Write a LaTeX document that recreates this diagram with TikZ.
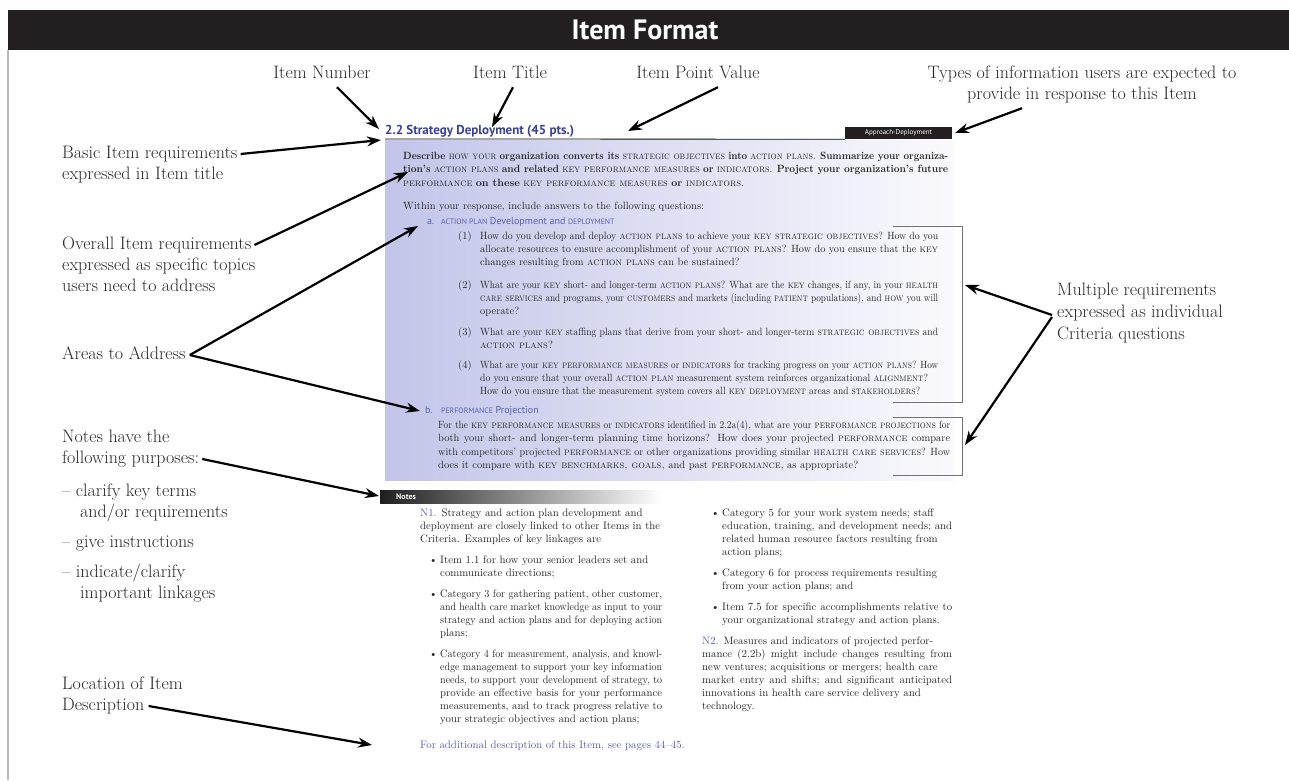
\documentclass[tikz,border=0pt]{standalone}
\usepackage{fontspec}
\usepackage{graphicx}
\usetikzlibrary{arrows.meta}
\newfontfamily\hsans{PT Sans}
\definecolor{barblack}{RGB}{35,31,32}
\definecolor{hblue}{RGB}{55,65,150}
\definecolor{sblue}{RGB}{85,95,180}
\definecolor{txt}{RGB}{40,40,40}
\definecolor{shadeL}{RGB}{194,197,233}
\definecolor{shadeR}{RGB}{250,250,253}
\definecolor{brk}{RGB}{115,115,115}
\newcommand\jl[2]{\setbox0\hbox{#2}\ifdim\wd0>#1pt\resizebox{#1pt}{\height}{\box0}\else\makebox[#1pt][s]{#2}\fi}
\newcommand\ssc[1]{{\fontsize{7.8}{9}\selectfont #1}}
\newcommand\sk[1]{\textsc{#1}}
\begin{document}
\begin{tikzpicture}[x=1pt,y=-1pt,
  lab/.style={anchor=west, inner sep=0pt, text height=12pt, text depth=4pt, font=\fontsize{18}{21}\selectfont, text=txt},
  labc/.style={lab, anchor=center},
  body/.style={anchor=west, inner sep=0pt, text height=7pt, text depth=2.5pt, font=\fontsize{10.5}{12}\selectfont, text=txt},
  note/.style={body, font=\fontsize{10.8}{12}\selectfont},
  subh/.style={body, text=sblue, font=\hsans\fontsize{10}{12}\selectfont},
  arr/.style={-{Stealth[length=14pt,width=10pt]}, line width=2.2pt, black},
  bracket/.style={draw=brk, line width=1pt}]
\useasboundingbox (0,0) rectangle (1289,780);
\fill[white] (0,0) rectangle (1289,780);
% title bar and frame
\fill[barblack] (8,10) rectangle (1289,50);
\node[text=white, font=\hsans\bfseries\fontsize{28}{30}\selectfont, inner sep=0pt] (title) at (645,30) {Item Format};
\draw[gray!55, line width=1.2pt] (8,50) -- (8,780);
% shaded item box
\shade[left color=shadeL, right color=shadeR] (385,140) rectangle (955,480);
% heading
\node[anchor=west, inner sep=0pt, text=hblue, font=\hsans\bfseries\fontsize{13}{14}\selectfont] (head) at (385,131) {2.2 Strategy Deployment (45 pts.)};
\node[fill=barblack, text=white, font=\hsans\fontsize{7}{8}\selectfont, minimum width=107pt, minimum height=12pt, inner sep=0pt] (ad) at (898.5,133) {Approach-Deployment};
\draw[black, line width=0.8pt] (385,139) -- (ad.south west);
% body text
\node[body] (d1) at (403,157) {\jl{545}{\textbf{Describe} \sk{how your} \textbf{organization converts its} \sk{strategic objectives} \textbf{into} \sk{action plans}. \textbf{Summarize your organiza-}}};
\node[body] (d2) at (403,170.5) {\jl{545}{\textbf{tion's} \sk{action plans} \textbf{and related} \sk{key performance measures} \textbf{or} \sk{indicators}. \textbf{Project your organization's future}}};
\node[body] (d3) at (403,184) {\sk{performance} \textbf{on these} \sk{key performance measures} \textbf{or} \sk{indicators}.};
\node[body] (w) at (403,207) {Within your response, include answers to the following questions:};
\node[subh] (la) at (427,222) {a.};
\node[subh] (ha) at (441,222) {\ssc{ACTION PLAN} Development and \ssc{DEPLOYMENT}};
\node[body] (n1) at (458,237) {(1)};
\node[body] (q1a) at (480,237) {\jl{458}{How do you develop and deploy \sk{action plans} to achieve your \sk{key strategic objectives}? How do you}};
\node[body] (q1b) at (480,250) {\jl{458}{allocate resources to ensure accomplishment of your \sk{action plans}? How do you ensure that the \sk{key}}};
\node[body] (q1c) at (480,263) {changes resulting from \sk{action plans} can be sustained?};
\node[body] (n2) at (458,286) {(2)};
\node[body] (q2a) at (480,286) {\jl{458}{What are your \sk{key} short- and longer-term \sk{action plans}? What are the \sk{key} changes, if any, in your \sk{health}}};
\node[body] (q2b) at (480,299) {\jl{458}{\sk{care services} and programs, your \sk{customers} and markets (including \sk{patient} populations), and \sk{how} you will}};
\node[body] (q2c) at (480,312) {operate?};
\node[body] (n3) at (458,333) {(3)};
\node[body] (q3a) at (480,333) {\jl{458}{What are your \sk{key} staffing plans that derive from your short- and longer-term \sk{strategic objectives} and}};
\node[body] (q3b) at (480,346) {\sk{action plans}?};
\node[body] (n4) at (458,366) {(4)};
\node[body] (q4a) at (480,366) {\jl{458}{What are your \sk{key performance measures} or \sk{indicators} for tracking progress on your \sk{action plans}? How}};
\node[body] (q4b) at (480,379) {\jl{448}{do you ensure that your overall \sk{action plan} measurement system reinforces organizational \sk{alignment}?}};
\node[body] (q4c) at (480,392) {\jl{440}{How do you ensure that the measurement system covers all \sk{key deployment} areas and \sk{stakeholders}?}};
\node[subh] (lb) at (425,411) {b.};
\node[subh] (hb) at (441,411) {\ssc{PERFORMANCE} Projection};
\node[body] (p1) at (438,426) {\jl{512}{For the \sk{key performance measures} or \sk{indicators} identified in 2.2a(4), what are your \sk{performance projections} for}};
\node[body] (p2) at (438,439.5) {\jl{512}{both your short- and longer-term planning time horizons? How does your projected \sk{performance} compare}};
\node[body] (p3) at (438,453) {\jl{512}{with competitors' projected \sk{performance} or other organizations providing similar \sk{health care services}? How}};
\node[body] (p4) at (438,466.5) {does it compare with \sk{key benchmarks, goals,} and past \sk{performance}, as appropriate?};
% brackets
\draw[bracket] (893,226) -- (962,226) -- (962,402) -- (893,402);
\draw[bracket] (893,417) -- (962,417) -- (962,475) -- (893,475);
% notes bar
\shade[left color=black!88, middle color=black!55, right color=white] (380,490) rectangle (662,503);
\node[anchor=west, inner sep=0pt, text=white, font=\hsans\bfseries\fontsize{8}{9}\selectfont] (notesbar) at (396,496.5) {Notes};
% notes left column
\node[note] (l1) at (420,514) {{\color{sblue}N1.} Strategy and action plan development and};
\node[note] (l2) at (420,527) {\jl{240}{deployment are closely linked to other Items in the}};
\node[note] (l3) at (420,540) {Criteria. Examples of key linkages are};
\node[note] (b1) at (429,561) {\textbullet};
\node[note] (l4) at (440,561) {Item 1.1 for how your senior leaders set and};
\node[note] (l5) at (440,574) {communicate directions;};
\node[note] (b2) at (429,595) {\textbullet};
\node[note] (l6) at (440,595) {\jl{222}{Category 3 for gathering patient, other customer,}};
\node[note] (l7) at (440,608) {\jl{222}{and health care market knowledge as input to your}};
\node[note] (l8) at (440,621) {\jl{222}{strategy and action plans and for deploying action}};
\node[note] (l9) at (440,634) {plans;};
\node[note] (b3) at (429,655) {\textbullet};
\node[note] (l10) at (440,655) {\jl{222}{Category 4 for measurement, analysis, and knowl-}};
\node[note] (l11) at (440,668) {\jl{222}{edge management to support your key information}};
\node[note] (l12) at (440,681) {\jl{222}{needs, to support your development of strategy, to}};
\node[note] (l13) at (440,694) {\jl{222}{provide an effective basis for your performance}};
\node[note] (l14) at (440,707) {\jl{222}{measurements, and to track progress relative to}};
\node[note] (l15) at (440,720) {your strategic objectives and action plans;};
\node[note, text=sblue] (fad) at (420,746) {For additional description of this Item, see pages 44--45.};
% notes right column
\node[note] (b4) at (711,514) {\textbullet};
\node[note] (r1) at (722,514) {Category 5 for your work system needs; staff};
\node[note] (r2) at (722,527) {\jl{230}{education, training, and development needs; and}};
\node[note] (r3) at (722,540) {related human resource factors resulting from};
\node[note] (r4) at (722,553) {action plans;};
\node[note] (b5) at (711,574) {\textbullet};
\node[note] (r5) at (722,574) {Category 6 for process requirements resulting};
\node[note] (r6) at (722,587) {from your action plans; and};
\node[note] (b6) at (711,608) {\textbullet};
\node[note] (r7) at (722,608) {\jl{230}{Item 7.5 for specific accomplishments relative to}};
\node[note] (r8) at (722,621) {your organizational strategy and action plans.};
\node[note] (r9) at (702,642) {{\color{sblue}N2.} Measures and indicators of projected perfor-};
\node[note] (r10) at (702,655) {\jl{250}{mance (2.2b) might include changes resulting from}};
\node[note] (r11) at (702,668) {new ventures; acquisitions or mergers; health care};
\node[note] (r12) at (702,681) {\jl{250}{market entry and shifts; and significant anticipated}};
\node[note] (r13) at (702,694) {innovations in health care service delivery and};
\node[note] (r14) at (702,707) {technology.};
% top labels
\node[labc] (inum) at (322,74) {Item Number};
\node[labc] (ititle) at (510,74) {Item Title};
\node[labc] (ipv) at (698,74) {Item Point Value};
\node[labc] (types1) at (1082,74) {Types of information users are expected to};
\node[labc] (types2) at (1082,95) {provide in response to this Item};
% left labels
\node[lab] (basic1) at (62,154) {Basic Item requirements};
\node[lab] (basic2) at (62,175) {expressed in Item title};
\node[lab] (over1) at (62,245) {Overall Item requirements};
\node[lab] (over2) at (62,266) {expressed as specific topics};
\node[lab] (over3) at (62,287) {users need to address};
\node[lab] (areas) at (62,355) {Areas to Address};
\node[lab] (nh1) at (62,438) {Notes have the};
\node[lab] (nh2) at (62,459) {following purposes:};
\node[lab] (nh3) at (62,492) {-- clarify key terms};
\node[lab] (nh4) at (80,513) {and/or requirements};
\node[lab] (nh5) at (62,543) {-- give instructions};
\node[lab] (nh6) at (62,573) {-- indicate/clarify};
\node[lab] (nh7) at (80,594) {important linkages};
\node[lab] (loc1) at (62,685) {Location of Item};
\node[lab] (loc2) at (62,706) {Description};
% right labels
\node[lab] (mult1) at (1057,291) {Multiple requirements};
\node[lab] (mult2) at (1057,313) {expressed as individual};
\node[lab] (mult3) at (1057,335) {Criteria questions};
% arrow targets
\coordinate (tNum) at (379,129);
\coordinate (tTitle) at (492,127);
\coordinate (tPV) at (628,131);
\coordinate (tTypes) at (955,133);
\coordinate (tBasic) at (381,140);
\coordinate (tOver) at (408,172);
\coordinate (tA) at (418,226);
\coordinate (tB) at (420,411);
\coordinate (tNotes) at (379,496);
\coordinate (tLoc) at (372,745);
\coordinate (tM1) at (965,285);
\coordinate (tM2) at (965,445);
% arrows
\draw[arr] ([xshift=15pt,yshift=-5pt]inum.south) -- (tNum);
\draw[arr] ([xshift=3pt,yshift=-5pt]ititle.south) -- (tTitle);
\draw[arr] ([xshift=20pt,yshift=-5pt]ipv.south) -- (tPV);
\draw[arr] ([xshift=-60pt,yshift=-5pt]types2.south) -- (tTypes);
\draw[arr] ([xshift=3pt]basic1.east) -- (tBasic);
\draw[arr] ([xshift=3pt]over1.east) -- (tOver);
\draw[arr] ([xshift=4pt]areas.east) -- (tA);
\draw[arr] ([xshift=4pt]areas.east) -- (tB);
\draw[arr] ([xshift=3pt]nh2.east) -- (tNotes);
\draw[arr] ([xshift=4pt]loc2.east) -- (tLoc);
\draw[arr] ([xshift=-5pt,yshift=-2pt]mult2.west) -- (tM1);
\draw[arr] ([xshift=-5pt,yshift=-4pt]mult2.west) -- (tM2);
\end{tikzpicture}
\end{document}
